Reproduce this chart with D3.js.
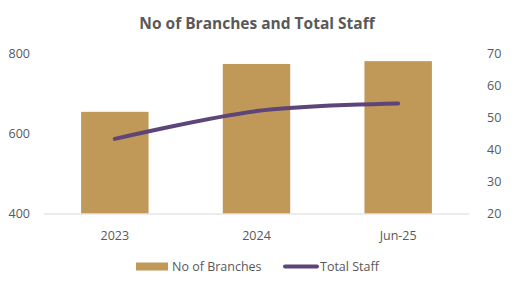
<!DOCTYPE html>
<html><head><meta charset="utf-8">
<script src="https://cdn.jsdelivr.net/npm/d3@7"></script>
<style>body{margin:0;background:#fff}svg{display:block}text{font-family:"Open Sans","Liberation Sans",sans-serif;fill:#595959}</style>
</head><body>
<script>
const categories = ["2023", "2024", "Jun-25"];
const branches = [655, 775, 782];
const staff = [43.4, 52.1, 54.5];
const leftTicks = [400, 600, 800];
const rightTicks = [20, 30, 40, 50, 60, 70];

const W = 515, H = 289;
const m = {l: 44, r: 46, t: 54, b: 75.5};
const svg = d3.select("body").append("svg").attr("width", W).attr("height", H);

const x = d3.scaleBand().domain(categories).range([m.l, W - m.r]).paddingInner(0.524).paddingOuter(0.262);
const yL = d3.scaleLinear().domain([400, 800]).range([H - m.b, m.t]);
const yR = d3.scaleLinear().domain([20, 70]).range([H - m.b, m.t]);

svg.append("text").attr("x", 257).attr("y", 24).attr("dy", "0.35em").attr("text-anchor", "middle")
  .style("font-size", "15.5px").style("font-weight", "bold").text("No of Branches and Total Staff");

svg.selectAll("rect.bar").data(branches).join("rect").attr("class", "bar")
  .attr("x", (d, i) => x(categories[i])).attr("width", x.bandwidth())
  .attr("y", d => yL(d)).attr("height", d => yL(400) - yL(d)).attr("fill", "#c09858");

svg.append("line").attr("x1", m.l).attr("x2", W - m.r).attr("y1", yL(400) + 0.5).attr("y2", yL(400) + 0.5)
  .attr("stroke", "#d9d9d9").attr("stroke-width", 1);

const line = d3.line().x((d, i) => x(categories[i]) + x.bandwidth() / 2).y(d => yR(d)).curve(d3.curveCatmullRom.alpha(0.5));
svg.append("path").datum(staff).attr("d", line).attr("fill", "none").attr("stroke", "#5e4579")
  .attr("stroke-width", 4).attr("stroke-linecap", "round");

svg.selectAll("text.yl").data(leftTicks).join("text").attr("class", "yl")
  .attr("x", 30).attr("y", d => yL(d)).attr("dy", "0.35em").attr("text-anchor", "end")
  .style("font-size", "12.5px").text(d => d);
svg.selectAll("text.yr").data(rightTicks).join("text").attr("class", "yr")
  .attr("x", 487).attr("y", d => yR(d)).attr("dy", "0.35em").attr("text-anchor", "start")
  .style("font-size", "12.5px").text(d => d);
svg.selectAll("text.xl").data(categories).join("text").attr("class", "xl")
  .attr("x", d => x(d) + x.bandwidth() / 2).attr("y", 236).attr("dy", "0.35em").attr("text-anchor", "middle")
  .style("font-size", "12.5px").text(d => d);

// legend
const lg = svg.append("g");
lg.append("rect").attr("x", 136).attr("y", 262.5).attr("width", 32).attr("height", 8).attr("fill", "#c09858");
lg.append("text").attr("x", 172).attr("y", 266.5).attr("dy", "0.35em").style("font-size", "12.5px").text("No of Branches");
lg.append("line").attr("x1", 285).attr("x2", 317).attr("y1", 266.5).attr("y2", 266.5)
  .attr("stroke", "#5e4579").attr("stroke-width", 4).attr("stroke-linecap", "round");
lg.append("text").attr("x", 320).attr("y", 266.5).attr("dy", "0.35em").style("font-size", "12.5px").text("Total Staff");
</script>
</body></html>
